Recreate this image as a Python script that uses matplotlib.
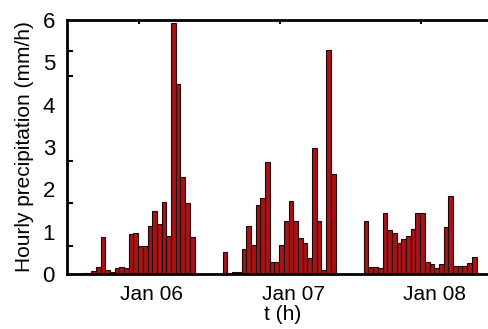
import numpy as np
import matplotlib
matplotlib.use('Agg')
import matplotlib.pyplot as plt
from matplotlib.transforms import ScaledTranslation

plt.rcParams['font.family'] = ['Liberation Sans', 'DejaVu Sans']

# ── data: hourly precipitation (mm/h), three daily blocks separated by empty slots
day1 = [0.03, 0.03, 0.08, 0.17, 0.87, 0.10, 0.05, 0.13, 0.17, 0.13, 0.95, 0.96,
        0.65, 0.65, 1.14, 1.48, 1.17, 1.71, 0.90, 5.92, 4.50, 2.30, 1.68, 0.87]
day2 = [0.51, 0.03, 0.05, 0.05, 0.60, 1.14, 0.69, 1.62, 1.80, 2.64, 0.28, 0.28,
        0.69, 1.26, 1.73, 1.26, 0.84, 0.73, 0.37, 2.97, 1.26, 0.10, 5.30, 2.36]
day3 = [1.25, 0.17, 0.17, 0.13, 1.44, 1.04, 0.96, 0.73, 0.82, 0.90, 1.06, 1.45,
        1.45, 0.29, 0.24, 0.13, 0.23, 1.12, 1.85, 0.19, 0.19, 0.20, 0.25, 0.39]
gap = [0.0] * 6
precip = day1 + gap + day2 + gap + day3

tick_hours = [24, 48, 72]
tick_labels = ["Jan 06", "Jan 07", "Jan 08"]
y_ticks = [0, 1, 2, 3, 4, 5, 6]

# time axis (hours since Jan 05 00:00), one slot per bar
t_start, dt = 14.25, 0.8
t = t_start + dt * np.arange(len(precip))

fig = plt.figure(figsize=(4.88, 3.29), dpi=100)
ax = fig.add_axes([0.1383, 0.1672, 0.8822, 0.7718])

ax.bar(t, precip, width=dt, align='edge', color='#a51417',
       edgecolor='#250202', linewidth=0.8, zorder=2)

ax.set_xlim(11.83, 85.1)
ax.set_ylim(0, 6)

ax.set_xticks(tick_hours)
ax.set_xticklabels(tick_labels, fontsize=15)
ax.set_yticks(y_ticks)
ax.set_yticklabels([str(v) for v in y_ticks], fontsize=16)
ax.set_yticks([0.66, 1.68, 2.67, 3.0, 4.68, 5.27], minor=True)

ax.tick_params(axis='x', which='major', direction='in', length=3, width=1.5,
               top=True, bottom=False, labelbottom=True, pad=8)
ax.tick_params(axis='y', which='major', length=0, pad=9)
ax.tick_params(axis='y', which='minor', direction='in', length=4, width=1.5,
               left=True, right=False)

# labels sit a bit to the right of the tick marks in the original
shift = ScaledTranslation(13 / 100, 0, fig.dpi_scale_trans)
for lab in ax.get_xticklabels():
    lab.set_transform(lab.get_transform() + shift)

for sp in ax.spines.values():
    sp.set_linewidth(2.0)
    sp.set_zorder(3)

ax.set_xlabel("t (h)", fontsize=15, labelpad=1)
ax.set_ylabel("Hourly precipitation (mm/h)", fontsize=15, labelpad=6)

fig.savefig("out.png", dpi=100)
